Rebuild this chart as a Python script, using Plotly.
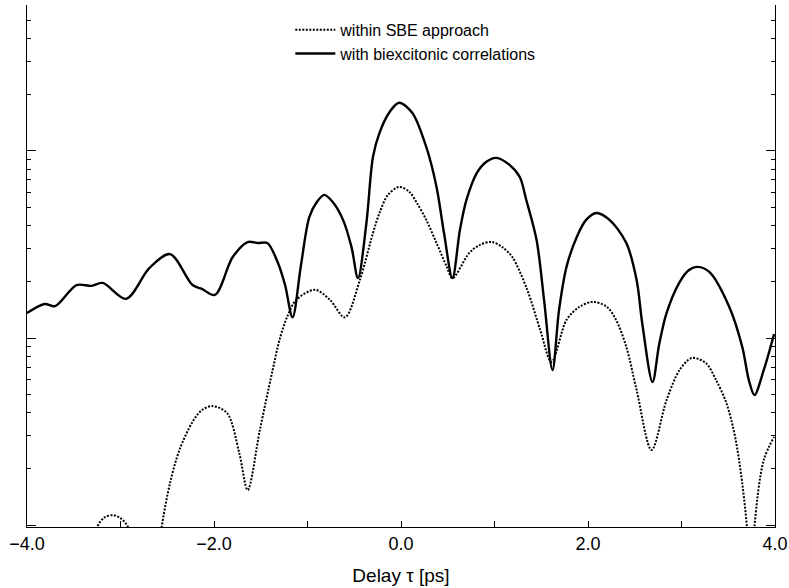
import plotly.graph_objects as go

# Delay (ps) and signal (arb. units, log scale)
x_biex = [-4.00, -3.81, -3.70, -3.47, -3.31, -3.19, -2.94, -2.69, -2.47, -2.23, -2.13, -1.99,
          -1.80, -1.64, -1.53, -1.43, -1.32, -1.24, -1.16, -1.07, -0.98, -0.90, -0.82, -0.73,
          -0.62, -0.53, -0.46, -0.37, -0.30, -0.23, -0.12, -0.02, 0.12, 0.27, 0.38, 0.46, 0.55,
          0.63, 0.70, 0.81, 0.91, 1.02, 1.16, 1.27, 1.34, 1.45, 1.53, 1.62, 1.69, 1.77, 1.88,
          1.98, 2.09, 2.23, 2.41, 2.52, 2.58, 2.69, 2.76, 2.84, 2.98, 3.08, 3.17, 3.30, 3.51,
          3.65, 3.72, 3.78, 3.88, 3.99]
y_biex = [13.6, 15.2, 14.8, 19.2, 19.0, 19.7, 16.2, 23.7, 28.1, 19.2, 18.3, 17.0,
          27.1, 32.6, 32.2, 32.2, 25.5, 19.2, 12.9, 24.5, 44.4, 53.3, 58.2, 53.3,
          42.8, 30.7, 20.9, 41.2, 92.9, 125, 162, 181, 160, 105, 64.2, 36.4, 20.9,
          37.8, 54.7, 76.2, 87.3, 91.8, 84.2, 72.6, 54.7, 33.4, 16.0, 6.75, 14.1, 24.0, 34.7,
          42.8, 46.6, 42.8, 32.2, 20.4, 12.0, 5.82, 9.18, 13.6, 19.9, 23.1, 24.0, 22.5, 14.7,
          8.96, 5.96, 4.96, 6.75, 10.5]

x_sbe = [-3.33, -3.25, -3.17, -3.08, -3.00, -2.92, -2.85, -2.63, -2.56, -2.47, -2.37, -2.23,
         -2.13, -2.02, -1.86, -1.73, -1.64, -1.51, -1.38, -1.30, -1.22, -1.12, -0.92, -0.76,
         -0.60, -0.44, -0.30, -0.23, -0.14, -0.02, 0.09, 0.17, 0.27, 0.38, 0.49, 0.55, 0.73,
         0.84, 0.97, 1.08, 1.19, 1.35, 1.49, 1.61, 1.77, 1.91, 2.05, 2.20, 2.30, 2.41, 2.52,
         2.68, 2.84, 2.98, 3.11, 3.26, 3.37, 3.48, 3.58, 3.70, 3.74, 3.78, 3.88, 3.99]
y_sbe = [0.5, 0.975, 1.10, 1.13, 1.09, 0.975, 0.5, 0.5, 0.975, 1.68, 2.52, 3.56,
         4.12, 4.33, 3.97, 2.43, 1.54, 3.22, 6.50, 9.75, 12.9, 16.0, 18.1, 16.0,
         12.9, 20.4, 36.4, 46.6, 58.2, 64.2, 60.4, 52.7, 42.8, 32.2, 24.0, 20.9, 28.5,
         31.4, 32.6, 30.7, 27.1, 18.1, 11.0, 7.45, 12.5, 14.7, 15.6, 14.7, 12.5, 8.96, 5.27,
         2.52, 4.66, 6.75, 7.82, 7.35, 5.96, 4.49, 2.85, 0.975, 0.3, 0.975, 2.23, 2.96]

x_tickvals = [-4, -2, 0, 2, 4]
x_ticktext = ["\u22124.0", "\u22122.0", "0.0", "2.0", "4.0"]

FONT = "Liberation Sans, Arial, sans-serif"

fig = go.Figure()
fig.add_trace(go.Scatter(x=x_sbe, y=y_sbe, mode="lines", name="within SBE approach",
                         line=dict(color="black", width=2, dash="2px,1.5px", shape="spline", smoothing=0.9)))
fig.add_trace(go.Scatter(x=x_biex, y=y_biex, mode="lines", name="with biexcitonic correlations",
                         line=dict(color="black", width=2.4, shape="spline", smoothing=0.9)))

fig.update_layout(
    width=789, height=588,
    margin=dict(l=27, r=14, t=5, b=61),
    paper_bgcolor="white", plot_bgcolor="white",
    font=dict(family=FONT, size=16, color="black"),
    showlegend=True,
    legend=dict(x=0.352, y=0.985, xanchor="left", yanchor="top",
                bgcolor="rgba(0,0,0,0)", font=dict(size=16, family=FONT),
                tracegroupgap=0, itemwidth=40),
)
fig.update_xaxes(
    range=[-4, 4], showgrid=False, zeroline=False, automargin=False,
    showline=True, linecolor="black", linewidth=1, mirror=False,
    tickvals=x_tickvals, ticktext=x_ticktext,
    ticks="inside", ticklen=6, tickcolor="black",
    minor=dict(ticks="inside", ticklen=6, dtick=1, tick0=0, tickcolor="black"),
    tickfont=dict(size=18, family=FONT),
    title=dict(text="Delay \u03c4 [ps]", font=dict(size=19, family=FONT), standoff=16),
)
fig.update_yaxes(
    type="log", range=[-0.01, 2.78], showgrid=False, zeroline=False, automargin=False,
    showline=True, linecolor="black", linewidth=1, mirror="allticks",
    showticklabels=False, ticks="inside", ticklen=9, tickcolor="black", dtick=1,
    minor=dict(ticks="inside", ticklen=4, dtick="D1", tickcolor="black"),
)

fig.write_html("out.html")
